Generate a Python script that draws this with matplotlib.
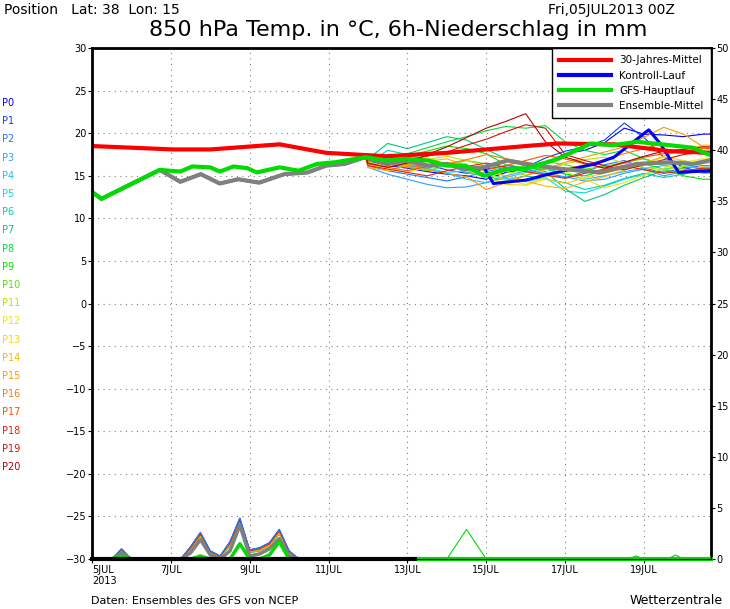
import numpy as np
import matplotlib.pyplot as plt
from matplotlib.lines import Line2D

# ---- data (days since 5 JUL 2013 00Z, temperature degC, precip mm) ----
mean_day = [0, 0.24, 1.72, 2.24, 2.76, 3.24, 3.71, 4.24, 4.88, 5.47, 5.94, 6.41, 6.94,
            7.47, 7.94, 8.53, 9.0, 9.47, 9.94, 10.53, 11.0, 11.94, 12.88, 13.82, 14.65, 15.24, 15.65]
mean_t = [13.1, 12.3, 15.7, 14.3, 15.2, 14.1, 14.6, 14.2, 15.2, 15.4, 16.2, 16.4, 17.2,
          16.4, 16.8, 16.2, 16.4, 15.8, 16.0, 16.8, 16.4, 15.8, 15.4, 16.4, 16.6, 16.4, 16.8]

gfs_day = [0, 0.24, 1.72, 2.24, 2.54, 3.0, 3.24, 3.59, 3.94, 4.18, 4.76, 5.24, 5.71, 6.18,
           6.94, 7.47, 7.94, 8.53, 9.0, 9.47, 9.94, 10.53, 11.0, 11.82, 12.65, 13.24, 13.82,
           14.65, 15.24, 15.65]
gfs_t = [13.1, 12.3, 15.7, 15.5, 16.1, 16.0, 15.5, 16.1, 15.9, 15.4, 16.0, 15.6, 16.4, 16.6,
         17.2, 16.8, 17.0, 16.8, 16.2, 16.2, 15.0, 15.8, 15.8, 17.0, 18.8, 18.6, 19.0,
         18.6, 18.3, 17.5]

ctrl_day = [10.18, 11.0, 11.59, 12.76, 13.24, 14.12, 14.41, 14.88, 15.65]
ctrl_t = [14.1, 14.5, 15.2, 16.4, 17.2, 20.4, 18.8, 15.4, 15.6]

clim_day = [0, 2.06, 3.0, 4.76, 5.94, 7.47, 9.0, 11.0, 11.82, 13.24, 13.94, 14.65, 15.65]
clim_t = [18.5, 18.1, 18.1, 18.7, 17.7, 17.3, 17.7, 18.5, 18.8, 18.7, 18.3, 17.9, 17.7]

member_colors = ['#0000ff', '#0a3cff', '#1e78ff', '#28a0ff', '#1ebeff', '#00dcf0', '#00d2b4',
                 '#00c878', '#00dc3c', '#00e600', '#50e600', '#b4e600', '#f0e600', '#ffd200',
                 '#ffb400', '#ff9600', '#ff7800', '#ff5000', '#f01e00', '#d21400', '#b40000']
member_labels = ['P%d' % i for i in range(21)]

late_day = [7.0 + 0.5 * i for i in range(18)]
late_t = [
    [16.8, 16.2, 15.9, 15.5, 15.2, 15.0, 14.6, 15.4, 15.8, 16.5, 17.6, 18.0, 18.9, 20.6, 19.9, 19.8, 19.6, 19.9],
    [16.5, 16.6, 16.0, 16.3, 15.7, 15.3, 15.8, 16.2, 16.0, 17.1, 17.9, 18.4, 19.2, 21.2, 19.5, 17.2, 16.0, 15.4],
    [16.2, 15.6, 15.2, 14.8, 14.4, 14.9, 15.5, 16.0, 15.8, 15.2, 14.8, 15.5, 16.3, 16.8, 15.9, 15.4, 15.9, 16.2],
    [16.0, 15.2, 14.6, 14.0, 13.6, 13.7, 14.2, 15.0, 15.6, 15.3, 14.9, 14.4, 14.6, 15.3, 15.8, 15.0, 15.5, 15.7],
    [17.3, 17.0, 16.2, 15.8, 15.3, 14.6, 14.2, 14.8, 15.4, 15.9, 15.2, 14.6, 15.0, 15.5, 15.9, 16.2, 16.5, 15.6],
    [16.9, 17.3, 16.5, 15.9, 15.4, 15.6, 15.1, 14.7, 14.3, 14.8, 13.2, 13.0, 13.8, 14.6, 15.2, 15.8, 16.1, 15.9],
    [16.5, 18.0, 17.5, 16.8, 16.3, 15.4, 14.9, 14.5, 15.0, 14.6, 14.2, 13.4, 13.9, 14.7, 15.3, 14.8, 15.2, 16.0],
    [17.0, 18.8, 18.2, 18.9, 19.6, 19.2, 18.1, 17.0, 16.1, 15.5, 13.5, 12.0, 12.8, 13.9, 14.8, 15.6, 15.2, 15.8],
    [16.4, 17.2, 17.6, 18.3, 19.0, 19.6, 20.3, 20.8, 20.6, 20.9, 19.0, 18.0, 17.5, 18.0, 17.0, 16.4, 16.8, 16.2],
    [16.6, 16.9, 17.4, 17.9, 18.5, 18.2, 17.6, 16.3, 15.9, 15.8, 15.2, 15.0, 15.6, 15.9, 16.4, 15.8, 15.0, 14.6],
    [16.8, 16.4, 16.0, 15.6, 16.2, 16.8, 16.4, 15.8, 16.2, 16.7, 16.3, 15.8, 16.1, 16.6, 17.0, 16.2, 15.8, 15.3],
    [17.1, 16.8, 16.3, 16.9, 17.3, 16.8, 16.1, 15.5, 15.1, 15.7, 16.4, 16.9, 17.2, 16.5, 16.0, 15.7, 16.1, 16.5],
    [16.3, 15.8, 15.4, 16.1, 16.6, 16.0, 15.2, 14.5, 14.0, 14.8, 15.5, 14.6, 13.6, 14.2, 15.1, 15.9, 16.6, 17.0],
    [16.6, 16.1, 16.7, 17.1, 16.4, 15.6, 14.9, 14.0, 13.9, 14.6, 14.1, 14.8, 15.3, 15.9, 16.4, 17.2, 16.8, 16.0],
    [16.0, 15.6, 16.2, 16.7, 17.0, 16.2, 15.5, 15.0, 14.4, 13.8, 13.5, 14.3, 14.9, 15.7, 16.5, 17.3, 18.1, 18.6],
    [16.9, 16.5, 16.1, 15.7, 15.3, 14.9, 13.4, 14.2, 15.0, 15.8, 16.6, 17.2, 17.8, 18.4, 19.5, 20.7, 19.9, 18.4],
    [16.7, 16.9, 16.3, 15.9, 16.4, 16.9, 17.5, 17.0, 16.6, 16.2, 15.8, 16.3, 16.9, 17.6, 18.2, 18.8, 18.4, 17.9],
    [16.4, 16.0, 15.6, 16.1, 16.5, 16.1, 15.7, 16.2, 16.8, 17.4, 17.0, 16.4, 15.9, 16.5, 17.2, 17.6, 17.9, 18.2],
    [16.2, 15.8, 15.4, 15.0, 15.6, 16.1, 16.5, 16.0, 15.5, 15.1, 14.7, 15.3, 15.8, 16.2, 15.7, 15.3, 15.6, 15.9],
    [16.9, 16.5, 16.9, 17.3, 17.8, 18.6, 19.3, 20.2, 21.0, 20.6, 17.5, 16.8, 16.2, 15.7, 16.3, 16.9, 17.5, 17.8],
    [16.5, 16.0, 16.5, 17.5, 18.4, 19.5, 20.6, 21.4, 22.3, 19.0, 17.2, 16.5, 15.9, 16.6, 17.3, 17.9, 18.1, 18.4],
]

prec_day = [0, 0.5, 0.75, 1.0, 2.25, 2.5, 2.75, 3.0, 3.25, 3.5, 3.75, 4.0, 4.25, 4.5,
            4.75, 5.0, 5.25]
prec_mean = [0, 0, 0.6, 0, 0, 0.6, 1.9, 0.4, 0, 0.8, 3.3, 0.3, 0.5, 1.0, 2.0, 0.3, 0]
prec_gfs = [0, 0, 0.3, 0, 0, 0, 0.3, 0, 0, 0, 1.5, 0, 0, 0.4, 1.7, 0, 0]
prec_max = [0, 0, 1.0, 0, 0, 1.2, 2.6, 0.8, 0.3, 1.7, 4.0, 0.9, 1.1, 1.6, 2.9, 0.8, 0]
prec_min = [0, 0, 0.2, 0, 0, 0.1, 0.8, 0, 0, 0.2, 1.8, 0, 0, 0.4, 1.3, 0, 0]
gfs_late_day = [8.3, 9.0, 9.5, 10.0, 13.6, 13.8, 14.0, 14.6, 14.8, 15.0, 15.6, 15.7]
gfs_late_p = [0, 0, 2.9, 0, 0, 0.3, 0, 0, 0.4, 0, 0, 0.2]

tick_days = [0, 2, 4, 6, 8, 10, 12, 14]
tick_labels = ['5JUL\n2013', '7JUL', '9JUL', '11JUL', '13JUL', '15JUL', '17JUL', '19JUL']

# ---- figure ----
fig = plt.figure(figsize=[7.30, 6.09], dpi=100)
ax = fig.add_axes([0.126, 0.082, 0.848, 0.839])
end = 15.7
ax.set_xlim(0, end)
ax.set_ylim(-30, 30)
ax.set_yticks(np.arange(-30, 31, 5))
ax.set_xticks(tick_days)
ax.set_xticklabels(tick_labels, fontsize=7)
ax.get_xticklabels()[0].set_ha('left')
ax.get_xticklabels()[0].set_x(-0.3)
ax.tick_params(labelsize=7, direction='out', length=3, pad=1)
ax.grid(True, color='gray', linestyle=(0, (1, 4)), linewidth=0.8)
for s in ax.spines.values():
    s.set_linewidth(2)

early = [i for i, d in enumerate(mean_day) if d < 7.0]
for vals, col in zip(late_t, member_colors):
    d = [mean_day[i] for i in early] + late_day + [end]
    t = [mean_t[i] for i in early] + vals + [vals[-1]]
    ax.plot(d, t, color=col, linewidth=0.8)

cd = [d for d in mean_day if d < ctrl_day[0]] + ctrl_day
ct = [mean_t[i] for i, d in enumerate(mean_day) if d < ctrl_day[0]] + ctrl_t
ax.plot(cd, ct, color='#0000ff', linewidth=2.2)
ax.plot(mean_day, mean_t, color='#808080', linewidth=3)
ax.plot(clim_day, clim_t, color='#ff0000', linewidth=3)
ax.plot(gfs_day, gfs_t, color='#00dc00', linewidth=3)

ax2 = ax.twinx()
ax2.set_ylim(0, 50)
ax2.set_yticks(np.arange(0, 51, 5))
ax2.tick_params(labelsize=7, direction='out', length=3, pad=1)
for col, fac in zip(member_colors[::3], [1.0, 0.85, 0.7, 0.95, 0.8, 0.75, 0.9]):
    ax2.plot(prec_day, [lo + (hi - lo) * fac for lo, hi in zip(prec_min, prec_max)],
             color=col, linewidth=0.8)
ax2.plot(prec_day, prec_max, color='#1e78ff', linewidth=0.8)
ax2.plot(prec_day, prec_mean, color='#808080', linewidth=2.5)
ax2.plot(prec_day, prec_gfs, color='#00dc00', linewidth=2.5)
ax2.plot(gfs_late_day, gfs_late_p, color='#00dc00', linewidth=0.8)
ax2.plot([0, 8.3], [0.05, 0.05], color='black', linewidth=3, clip_on=False)
ax2.plot([8.3, end], [0.05, 0.05], color='#00dc00', linewidth=3, clip_on=False)

handles = [Line2D([], [], color=c, linewidth=3) for c in ['#ff0000', '#0000ff', '#00dc00', '#808080']]
leg = ax.legend(handles, ['30-Jahres-Mittel', 'Kontroll-Lauf', 'GFS-Hauptlauf', 'Ensemble-Mittel'],
                loc='upper right', fontsize=7.5, fancybox=False, framealpha=1,
                edgecolor='black', borderaxespad=0.0, handlelength=5, borderpad=0.7,
                labelspacing=0.5)
leg.get_frame().set_linewidth(1)

for i, (lab, col) in enumerate(zip(member_labels, member_colors)):
    fig.text(0.003, 1 - (103 + i * 18.2) / 609, lab, color=col, fontsize=7, va='center')

fig.text(0.005, 0.995, 'Position   Lat: 38  Lon: 15', fontsize=10, va='top')
fig.text(0.925, 0.995, 'Fri,05JUL2013 00Z', fontsize=10, va='top', ha='right')
fig.text(0.545, 0.951, '850 hPa Temp. in \u00b0C, 6h-Niederschlag in mm', fontsize=16,
         va='center', ha='center')
fig.text(0.125, 0.008, 'Daten: Ensembles des GFS von NCEP', fontsize=8)
fig.text(0.99, 0.008, 'Wetterzentrale', fontsize=9, ha='right')

fig.savefig('out.png')
